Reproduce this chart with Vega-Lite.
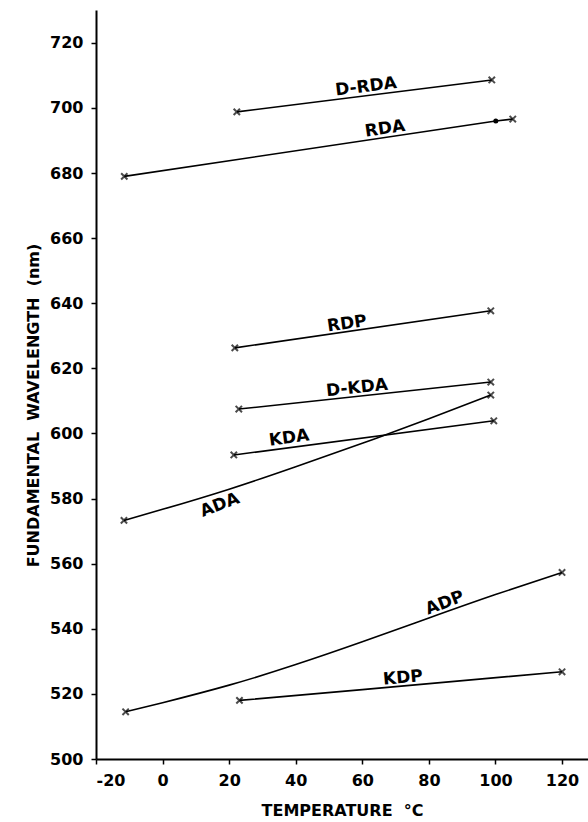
{
  "$schema": "https://vega.github.io/schema/vega-lite/v6.json",
  "autosize": {"type": "none"},
  "padding": {"left": 96, "top": 10, "right": 0, "bottom": 63},
  "width": 492,
  "height": 749,
  "background": "white",
  "config": {
    "view": {"stroke": null},
    "font": "DejaVu Sans",
    "axis": {
      "grid": false,
      "domainColor": "black",
      "domainWidth": 2,
      "tickColor": "black",
      "tickWidth": 1.5,
      "tickSize": 5,
      "labelFont": "DejaVu Sans",
      "labelFontWeight": "bold",
      "labelFontSize": 16,
      "labelColor": "black",
      "labelPadding": 8,
      "titleFont": "DejaVu Sans",
      "titleFontWeight": "bold",
      "titleFontSize": 16,
      "titleColor": "black"
    }
  },
  "datasets": {
    "curves": [
      {"series": "D-RDA", "t": 22.3, "nm": 698.8, "marker": "x"},
      {"series": "D-RDA", "t": 98.9, "nm": 708.6, "marker": "x"},
      {"series": "RDA", "t": -11.5, "nm": 679.0, "marker": "x"},
      {"series": "RDA", "t": 100.1, "nm": 696.0, "marker": "dot"},
      {"series": "RDA", "t": 105.2, "nm": 696.6, "marker": "x"},
      {"series": "RDP", "t": 21.7, "nm": 626.3, "marker": "x"},
      {"series": "RDP", "t": 98.6, "nm": 637.7, "marker": "x"},
      {"series": "D-KDA", "t": 22.9, "nm": 607.5, "marker": "x"},
      {"series": "D-KDA", "t": 98.6, "nm": 615.8, "marker": "x"},
      {"series": "KDA", "t": 21.4, "nm": 593.4, "marker": "x"},
      {"series": "KDA", "t": 99.5, "nm": 603.9, "marker": "x"},
      {"series": "ADA", "t": -11.6, "nm": 573.3, "marker": "x"},
      {"series": "ADA", "t": 0, "nm": 576.7, "marker": "none"},
      {"series": "ADA", "t": 20, "nm": 582.9, "marker": "none"},
      {"series": "ADA", "t": 40, "nm": 589.8, "marker": "none"},
      {"series": "ADA", "t": 60, "nm": 597.0, "marker": "none"},
      {"series": "ADA", "t": 80, "nm": 604.5, "marker": "none"},
      {"series": "ADA", "t": 98.6, "nm": 611.8, "marker": "x"},
      {"series": "ADP", "t": -11.1, "nm": 514.5, "marker": "x"},
      {"series": "ADP", "t": 0, "nm": 517.3, "marker": "none"},
      {"series": "ADP", "t": 20, "nm": 522.7, "marker": "none"},
      {"series": "ADP", "t": 40, "nm": 529.0, "marker": "none"},
      {"series": "ADP", "t": 60, "nm": 536.0, "marker": "none"},
      {"series": "ADP", "t": 80, "nm": 543.3, "marker": "none"},
      {"series": "ADP", "t": 100, "nm": 550.5, "marker": "none"},
      {"series": "ADP", "t": 120, "nm": 557.3, "marker": "x"},
      {"series": "KDP", "t": 23.1, "nm": 518.0, "marker": "x"},
      {"series": "KDP", "t": 60, "nm": 521.3, "marker": "none"},
      {"series": "KDP", "t": 120, "nm": 526.8, "marker": "x"}
    ],
    "labels": [
      {"text": "D-RDA", "t": 61.1, "nm": 706.5, "angle": -7},
      {"text": "RDA", "t": 66.8, "nm": 693.6, "angle": -8.4},
      {"text": "RDP", "t": 55.4, "nm": 633.7, "angle": -8.2},
      {"text": "D-KDA", "t": 58.4, "nm": 614.0, "angle": -6},
      {"text": "KDA", "t": 38, "nm": 598.6, "angle": -7.5},
      {"text": "ADA", "t": 17.2, "nm": 578.0, "angle": -21},
      {"text": "ADP", "t": 84.8, "nm": 547.9, "angle": -21},
      {"text": "KDP", "t": 72.2, "nm": 524.9, "angle": -5}
    ]
  },
  "layer": [
    {
      "data": {"name": "curves"},
      "transform": [{"filter": "datum.series === 'ADA' || datum.series === 'ADP'"}],
      "mark": {"type": "line", "color": "black", "strokeWidth": 1.6, "interpolate": "natural"},
      "encoding": {
        "x": {
          "field": "t", "type": "quantitative",
          "scale": {"domain": [-20, 127.8], "nice": false, "zero": false},
          "axis": {"values": [-20, 0, 20, 40, 60, 80, 100, 120], "labelExpr": "replace(datum.label, '−', '-')", "title": "TEMPERATURE\u00a0\u00a0°C", "titlePadding": 14}
        },
        "y": {
          "field": "nm", "type": "quantitative",
          "scale": {"domain": [500, 730.1], "nice": false, "zero": false},
          "axis": {"values": [500, 520, 540, 560, 580, 600, 620, 640, 660, 680, 700, 720], "title": "FUNDAMENTAL\u00a0\u00a0WAVELENGTH\u00a0\u00a0(nm)", "titleX": -63, "titleY": 395, "titleBaseline": "middle"}
        },
        "detail": {"field": "series"}
      }
    },
    {
      "data": {"name": "curves"},
      "transform": [{"filter": "datum.series !== 'ADA' && datum.series !== 'ADP'"}],
      "mark": {"type": "line", "color": "black", "strokeWidth": 1.6, "interpolate": "linear"},
      "encoding": {
        "x": {"field": "t", "type": "quantitative"},
        "y": {"field": "nm", "type": "quantitative"},
        "detail": {"field": "series"}
      }
    },
    {
      "data": {"name": "curves"},
      "transform": [{"filter": "datum.marker === 'x'"}],
      "mark": {"type": "point", "shape": "M-1,-1L1,1M1,-1L-1,1", "filled": false, "stroke": "black", "strokeWidth": 2, "size": 40},
      "encoding": {
        "x": {"field": "t", "type": "quantitative"},
        "y": {"field": "nm", "type": "quantitative"}
      }
    },
    {
      "data": {"name": "curves"},
      "transform": [{"filter": "datum.marker === 'dot'"}],
      "mark": {"type": "point", "shape": "circle", "filled": true, "color": "black", "opacity": 1, "size": 25},
      "encoding": {
        "x": {"field": "t", "type": "quantitative"},
        "y": {"field": "nm", "type": "quantitative"}
      }
    },
    {
      "data": {"name": "labels"},
      "mark": {"type": "text", "font": "DejaVu Sans", "fontWeight": "bold", "fontSize": 17, "color": "black", "align": "center", "baseline": "middle"},
      "encoding": {
        "x": {"field": "t", "type": "quantitative"},
        "y": {"field": "nm", "type": "quantitative"},
        "text": {"field": "text"},
        "angle": {"field": "angle", "type": "quantitative", "scale": null}
      }
    }
  ]
}
